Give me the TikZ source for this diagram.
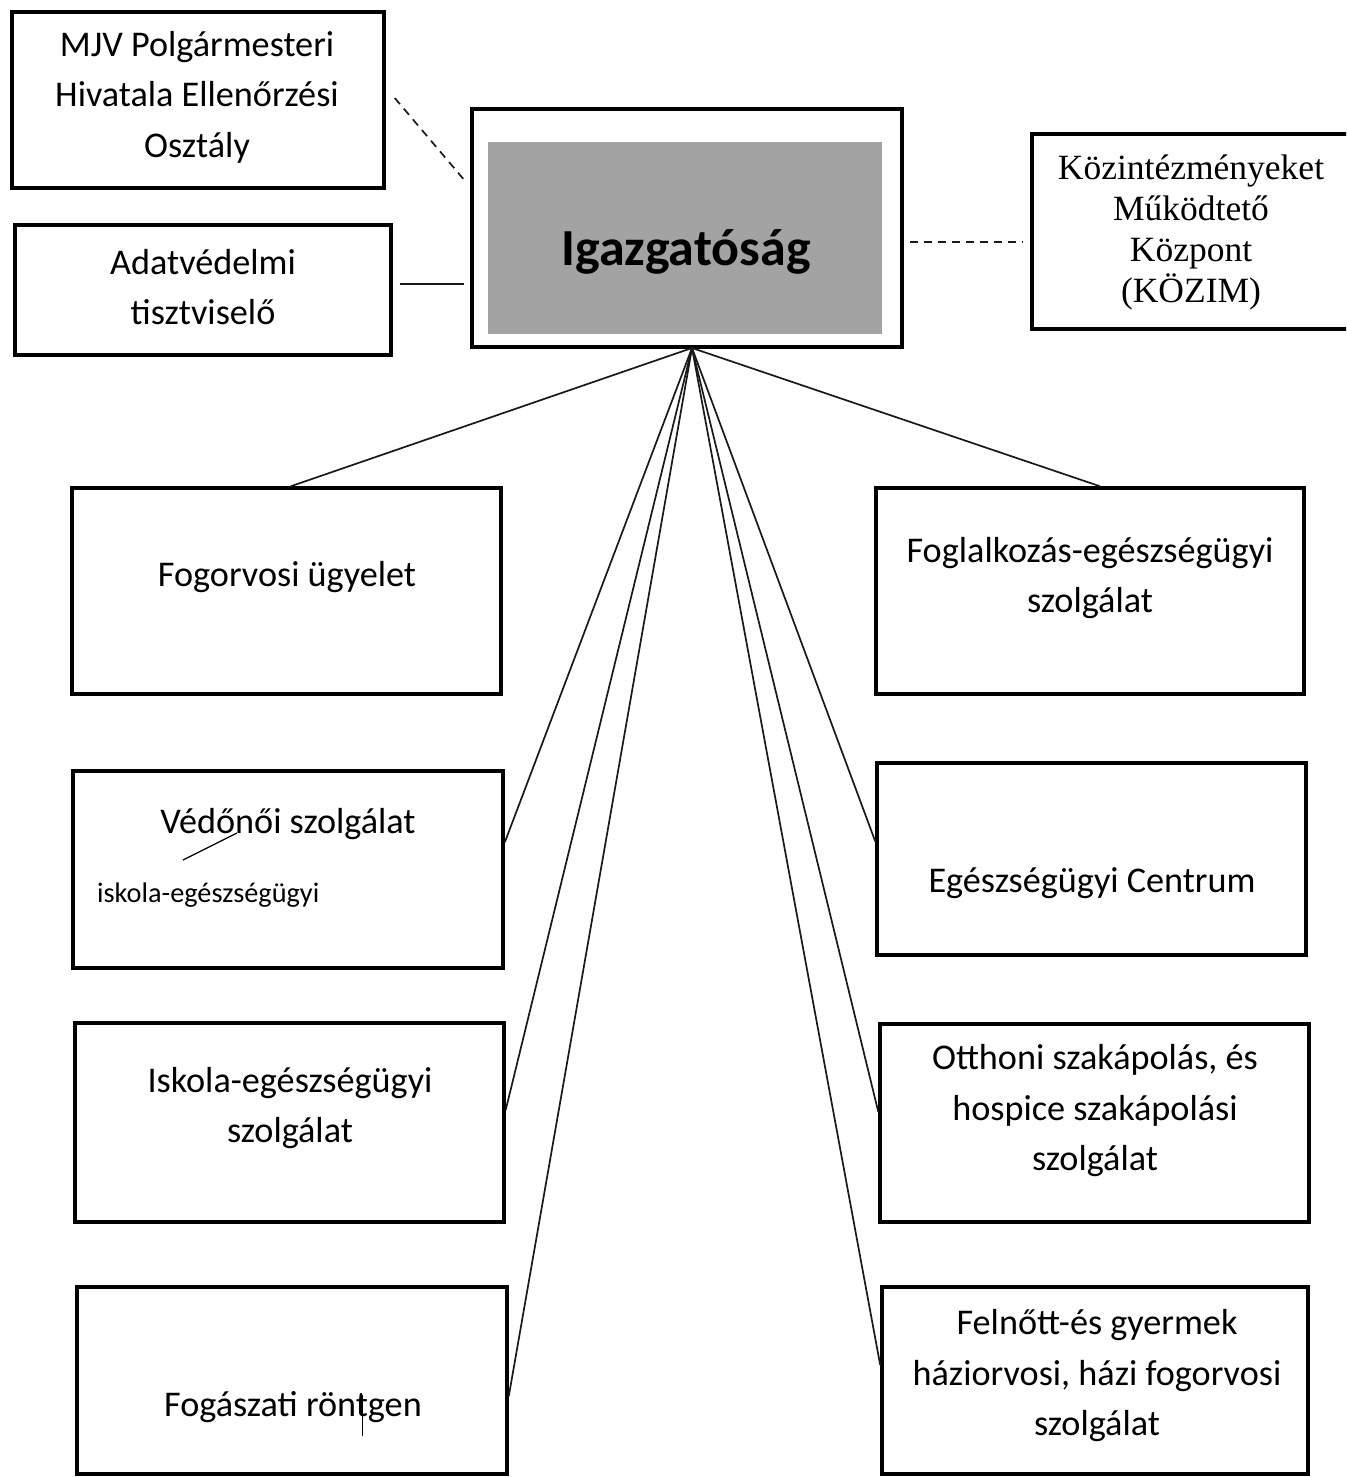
\documentclass[tikz,border=0pt]{standalone}
\usepackage{fontspec}
\setmainfont{Carlito}
\newfontfamily\serifkoz{Liberation Serif}
\usetikzlibrary{calc}
\tikzset{
  box/.style={draw=black, line width=3.5pt, rectangle, inner sep=0pt, fill=white},
  lbl/.style={align=center, inner sep=0pt, font=\fontsize{36.2}{50.5}\selectfont},
  conn/.style={draw=black!90, line width=1.7pt},
  dashconn/.style={draw=black!90, line width=1.7pt, dash pattern=on 8pt off 6pt},
  scanstroke/.style={draw=black, line width=1.3pt}
}
\begin{document}
\begin{tikzpicture}[x=1pt,y=-1pt]
\clip (0,0) rectangle (1346,1477);
\useasboundingbox (0,0) rectangle (1346,1477);
\fill[white] (0,0) rectangle (1346,1477);

% boxes
\node[box, minimum width=372pt, minimum height=176pt] (mjv) at (198,100) {};
\node[box, minimum width=376pt, minimum height=130pt] (adat) at (203,290) {};
\node[box, minimum width=430pt, minimum height=238pt] (igaz) at (687,228) {};
\node[fill=black!36, minimum width=394pt, minimum height=192pt, inner sep=0pt] (igazfill) at (685,238) {};
\node[box, minimum width=328pt, minimum height=195pt] (kozim) at (1196,231.5) {};
\node[box, minimum width=429pt, minimum height=206pt] (fog) at (286.5,591) {};
\node[box, minimum width=428pt, minimum height=206pt] (fogl) at (1090,591) {};
\node[box, minimum width=430pt, minimum height=197pt] (vedo) at (288,869.5) {};
\node[box, minimum width=429pt, minimum height=192pt] (egc) at (1091.5,859) {};
\node[box, minimum width=429pt, minimum height=199pt] (isk) at (289.5,1122.5) {};
\node[box, minimum width=429pt, minimum height=198pt] (otth) at (1094.5,1123) {};
\node[box, minimum width=430pt, minimum height=187pt] (fogasz) at (292,1380.5) {};
\node[box, minimum width=426pt, minimum height=187pt] (feln) at (1095,1380.5) {};

% texts
\node[lbl] (tmjv) at (197,97) {MJV Polgármesteri\\Hivatala Ellenőrzési\\Osztály};
\node[lbl] (tadat) at (203,287) {Adatvédelmi\\tisztviselő};
\node[inner sep=0pt, font=\fontsize{52}{60}\bfseries\selectfont] (tigaz) at (686,252) {Igazgatóság};
\node[align=center, inner sep=0pt, font=\serifkoz\fontsize{35.5}{41}\selectfont] (tkoz) at (1191,232) {Közintézményeket\\Működtető\\Központ\\(KÖZIM)};
\node[lbl] (tfog) at (287,577) {Fogorvosi ügyelet};
\node[lbl] (tfogl) at (1090,578) {Foglalkozás-egészségügyi\\szolgálat};
\node[lbl] (tvedo) at (288,824) {Védőnői szolgálat};
\node[inner sep=0pt, anchor=west, font=\fontsize{28.3}{30}\selectfont] (tvedo2) at (97,895) {iskola-egészségügyi};
\node[lbl] (tegc) at (1092,883) {Egészségügyi Centrum};
\node[lbl] (tisk) at (290,1108) {Iskola-egészségügyi\\szolgálat};
\node[lbl] (totth) at (1095,1111) {Otthoni szakápolás, és\\hospice szakápolási\\szolgálat};
\node[lbl] (tfogasz) at (293,1407) {Fogászati röntgen};
\node[lbl] (tfeln) at (1097,1376) {Felnőtt-és gyermek\\háziorvosi, házi fogorvosi\\szolgálat};

% small marks on the scan
\draw[scanstroke] (183,860) -- (237,833);
\draw[scanstroke, line width=1pt] (362,1395) -- (362,1436);

% connectors
\coordinate (apex) at (692,348);
\draw[conn] (apex) -- ($(fog.north west)!0.51!(fog.north east)$);
\draw[conn] (apex) -- ($(fogl.north west)!0.523!(fogl.north east)$);
\draw[conn] (apex) -- ($(vedo.north east)!0.365!(vedo.south east)$);
\draw[conn] (apex) -- ($(egc.north west)!0.41!(egc.south west)$);
\draw[conn] (apex) -- ($(isk.north east)!0.437!(isk.south east)$);
\draw[conn] (apex) -- ($(otth.north west)!0.444!(otth.south west)$);
\draw[conn] (apex) -- ($(fogasz.north east)!0.583!(fogasz.south east)$);
\draw[conn] (apex) -- ($(feln.north west)!0.42!(feln.south west)$);

\draw[dashconn] ($(mjv.east)+(9,-2)$) -- ($(igaz.west)+(-6,-48)$);
\draw[conn] ($(adat.east)+(7,-6)$) -- ($(igaz.west)+(-6,56)$);
\draw[dashconn] ($(igaz.east)+(6,14)$) -- ($(kozim.west)+(-7,10.5)$);
\end{tikzpicture}
\end{document}
